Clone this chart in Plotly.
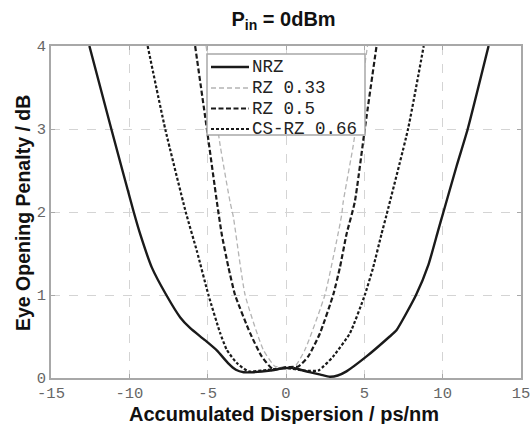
import plotly.graph_objects as go

# Eye opening penalty vs accumulated dispersion, Pin = 0 dBm
nrz_x = [-12.55, -11.15, -9.72, -9.3, -8.56, -7.64, -6.75, -6.11, -5.2, -4.4, -3.7, -3.2,
         -2.7, -2.08, -1.0, -0.4, 0.0, 0.47, 1.5, 2.2, 2.8, 3.3, 3.86, 5.14, 6.62, 7.05, 8.3,
         9.1, 9.7, 10.05, 10.9, 11.6, 12.93]
nrz_y = [4.0, 3.0, 2.0, 1.73, 1.33, 1.0, 0.73, 0.6, 0.46, 0.33, 0.18, 0.1,
         0.07, 0.07, 0.09, 0.11, 0.12, 0.12, 0.07, 0.04, 0.015, 0.03, 0.08, 0.26, 0.5, 0.575, 1.0,
         1.37, 1.77, 2.0, 2.56, 3.0, 4.0]

rz33_x = [-5.1, -4.2, -3.57, -3.36, -2.61, -1.45, -0.7, 0.0, 0.57, 1.21, 2.48, 3.55, 3.65, 4.29, 5.2]
rz33_y = [4.0, 2.8, 2.12, 1.94, 1.0, 0.34, 0.14, 0.13, 0.14, 0.34, 1.0, 1.96, 2.12, 2.8, 4.0]

rz50_x = [-5.8, -5.05, -4.41, -4.1, -3.67, -3.25, -2.29, -1.55, -0.8, 0.0, 0.79, 1.42, 2.17,
          3.01, 3.44, 3.86, 4.39, 5.03, 5.78]
rz50_y = [4.0, 3.0, 2.12, 1.73, 1.33, 1.0, 0.54, 0.26, 0.1, 0.13, 0.14, 0.26, 0.54,
          1.0, 1.33, 1.73, 2.12, 3.0, 4.0]

csrz66_x = [-8.83, -7.71, -6.4, -5.69, -4.95, -4.2, -3.78, -3.14, -2.4, -1.5, 0.0, 1.2, 2.06,
            3.01, 4.08, 5.03, 5.56, 6.09, 6.41, 7.79, 8.79]
csrz66_y = [4.0, 3.0, 2.0, 1.53, 1.0, 0.54, 0.34, 0.18, 0.08, 0.09, 0.12, 0.09, 0.09,
            0.26, 0.54, 1.0, 1.33, 1.73, 1.96, 3.0, 4.0]

x_ticks = [-15, -10, -5, 0, 5, 10, 15]
x_tick_text = ["-15", "-10", "-5", "0", "5", "10", "15"]
y_ticks = [0, 1, 2, 3, 4]
y_tick_text = ["0", "1", "2", "3", "4"]

series = [
    ("NRZ", nrz_x, nrz_y, dict(color="#1a1a1a", width=2.4)),
    ("RZ 0.33", rz33_x, rz33_y, dict(color="#b4b4b4", width=1.3, dash="5px,3px")),
    ("RZ 0.5", rz50_x, rz50_y, dict(color="#1a1a1a", width=2.2, dash="5px,2.5px")),
    ("CS-RZ 0.66", csrz66_x, csrz66_y, dict(color="#1a1a1a", width=2.2, dash="3px,2px")),
]

fig = go.Figure()
for name, xs, ys, style in series:
    fig.add_trace(go.Scatter(x=xs, y=ys, mode="lines", name=name,
                             line=dict(shape="spline", smoothing=0.5, **style),
                             showlegend=False))

# Plot area in pixels (for placing the boxed legend in paper coordinates)
L, R, T, B = 51, 521, 46, 378
W, H = R - L, B - T


def px(x):
    return (x - L) / W


def py(y):
    return (B - y) / H


shapes = [dict(type="rect", xref="paper", yref="paper",
               x0=px(207), x1=px(365), y0=py(135), y1=py(54),
               fillcolor="white", line=dict(color="#a8a8a8", width=1.5), layer="above")]
annotations = []
row_y = [67, 88, 108.5, 129]
for (name, _, _, style), ry in zip(series, row_y):
    shapes.append(dict(type="line", xref="paper", yref="paper",
                       x0=px(211), x1=px(249), y0=py(ry), y1=py(ry),
                       line=style, layer="above"))
    annotations.append(dict(text=name, xref="paper", yref="paper",
                            x=px(250), y=py(ry), xanchor="left", yanchor="middle",
                            showarrow=False,
                            font=dict(family="Liberation Mono", size=17.5, color="#222222")))

title_font = dict(family="Liberation Sans", size=20, color="#111111")
annotations.append(dict(text="<b>Accumulated Dispersion / ps/nm</b>", xref="paper",
                        yref="paper", x=px(284), y=py(413.5), xanchor="center",
                        yanchor="middle", showarrow=False, font=title_font))
annotations.append(dict(text="<b>Eye Opening Penalty / dB</b>", xref="paper",
                        yref="paper", x=px(23), y=py(213), xanchor="center",
                        yanchor="middle", textangle=-90, showarrow=False,
                        font=dict(family="Liberation Sans", size=19.5, color="#111111")))

axis_common = dict(
    showline=True, mirror="ticks", linecolor="#a8a8a8", linewidth=1.5,
    ticks="inside", ticklen=4, tickcolor="#a8a8a8",
    showgrid=True, gridcolor="#d4d4d4", griddash="dash", gridwidth=1,
    zeroline=False, automargin=False, ticklabeloverflow="allow",
    tickfont=dict(family="Liberation Mono", size=15.5, color="#666666"),
)

fig.update_layout(
    width=530, height=424,
    margin=dict(l=L, r=530 - R, t=T, b=424 - B, autoexpand=False),
    paper_bgcolor="white", plot_bgcolor="white",
    title=dict(text="<b>P<sub>in</sub> = 0dBm</b>", x=0.535, xanchor="center",
               y=1 - 19 / 424, yanchor="middle",
               font=dict(family="Liberation Sans", size=20, color="#111111")),
    xaxis=dict(range=[-15, 15], tickvals=x_ticks, ticktext=x_tick_text, **axis_common),
    yaxis=dict(range=[0, 4], tickvals=y_ticks, ticktext=y_tick_text, **axis_common),
    shapes=shapes,
    annotations=annotations,
    showlegend=False,
)

fig.write_html("out.html")
